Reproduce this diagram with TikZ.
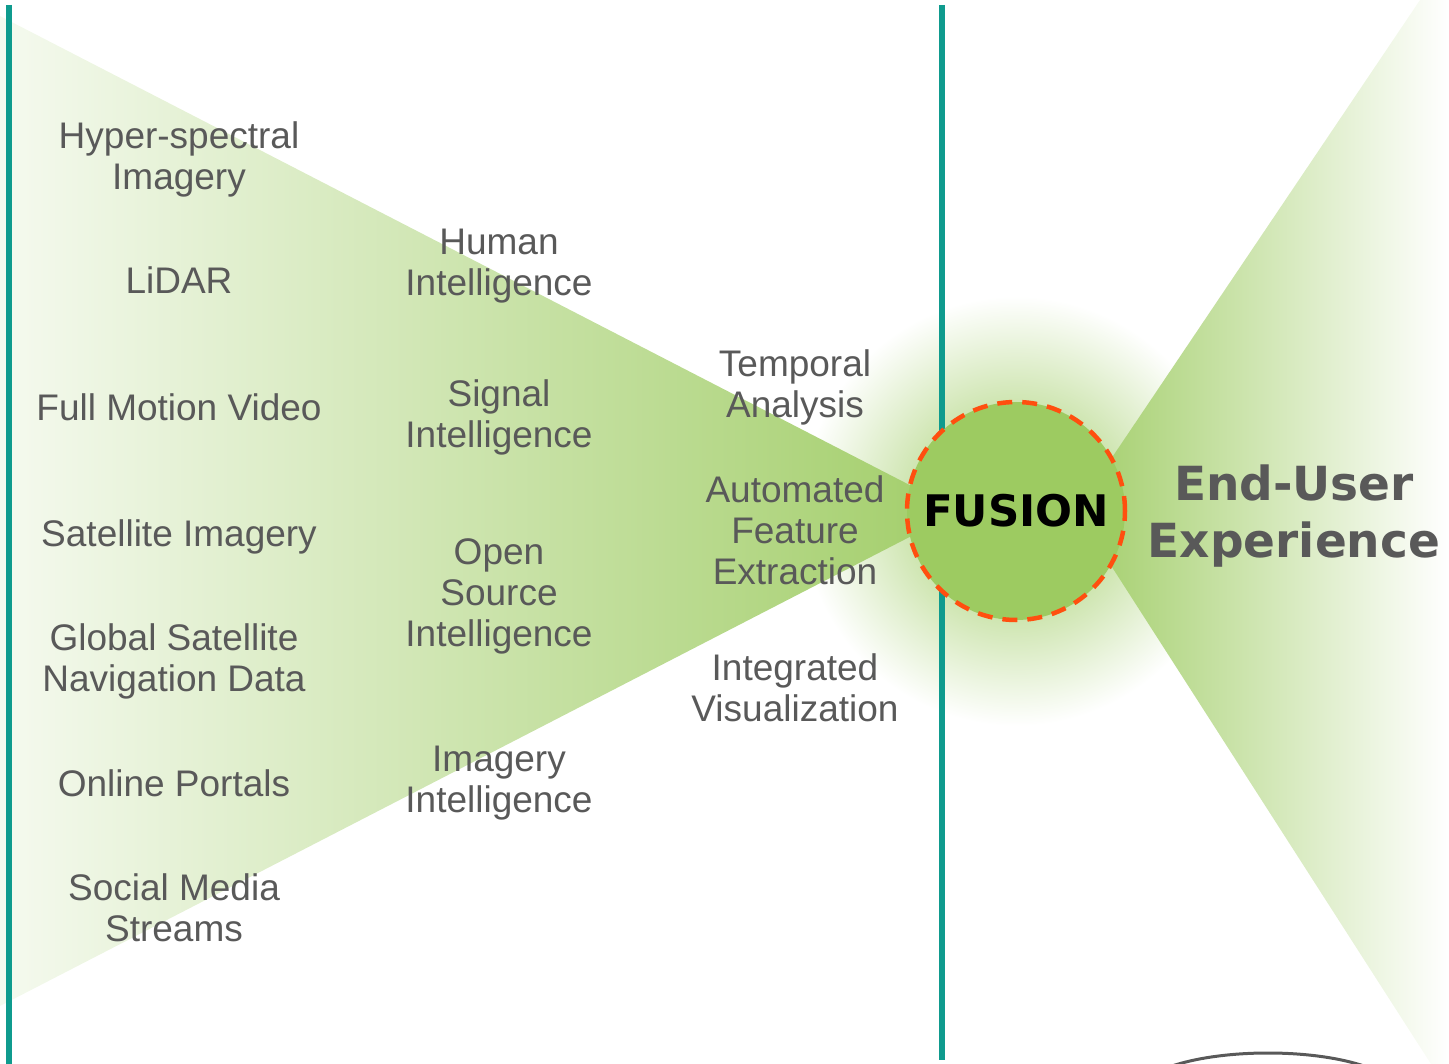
\documentclass[tikz,border=0pt]{standalone}
\usepackage{fontspec}
\setmainfont{Liberation Sans}
\newfontfamily\headfont{DejaVu Sans}
\usetikzlibrary{positioning}
\definecolor{fusegreen}{HTML}{9DCB61}
\definecolor{tealline}{HTML}{0F9B8E}
\definecolor{txtgrey}{HTML}{595959}
\definecolor{dashred}{HTML}{FF4F0F}

\begin{document}
\begin{tikzpicture}[x=1pt, y=-1pt, on grid,
  txt/.style={align=center, text=txtgrey, inner sep=0pt, font=\fontsize{37}{41}\selectfont},
  divider/.style={draw=tealline, line width=6pt},
  fuse/.style={circle, minimum size=218pt, fill=fusegreen, draw=dashred, line width=4.5pt,
    dash pattern=on 15pt off 10pt, font=\headfont\bfseries\fontsize{43.5}{50}\selectfont}]
\useasboundingbox (0,0) rectangle (1449,1064);
% glow
\shade[inner color=fusegreen, outer color=white] (1016,511) circle (215pt);
% funnels
\shade[left color=fusegreen!10, right color=fusegreen!95] (0,16) -- (960,511) -- (0,1006) -- cycle;
\shade[left color=fusegreen!95, right color=white] (1076,511) -- (1420,0) -- (1449,0) -- (1449,1064) -- (1431,1064) -- cycle;
\draw[txtgrey, line width=3pt] (1268,1093) ellipse (130pt and 40pt);
% separators
\draw[divider] (9,5) -- (9,1064);
\draw[divider] (942,5) -- (942,1060);

\node[txt] (hyper) at (179,159) {Hyper-spectral\\Imagery};
\node[txt, below=121pt of hyper] (lidar) {LiDAR};
\node[txt, below=127pt of lidar] (fmv) {Full Motion Video};
\node[txt, below=130pt of fmv] (satimg) {Satellite Imagery};
\node[txt, below=124pt of satimg, xshift=-5pt] (gnss) {Global Satellite\\Navigation Data};
\node[txt, below=122pt of gnss] (portals) {Online Portals};
\node[txt, below=125pt of portals] (social) {Social Media\\Streams};

\node[txt] (humint) at (499,266) {Human\\Intelligence};
\node[txt, below=151pt of humint] (sigint) {Signal\\Intelligence};
\node[txt, below=179pt of sigint] (osint) {Open\\Source\\Intelligence};
\node[txt, below=187pt of osint] (imint) {Imagery\\Intelligence};

\node[txt] (temporal) at (795,387) {Temporal\\Analysis};
\node[txt, below=143pt of temporal] (afe) {Automated\\Feature\\Extraction};
\node[txt, below=158pt of afe] (integrated) {Integrated\\Visualization};

\node[fuse] (fusion) at (1016,511) {FUSION};
\node[txt, font=\headfont\bfseries\fontsize{47}{57}\selectfont] (enduser) at (1294,516) {End-User\\Experience};

\end{tikzpicture}
\end{document}
